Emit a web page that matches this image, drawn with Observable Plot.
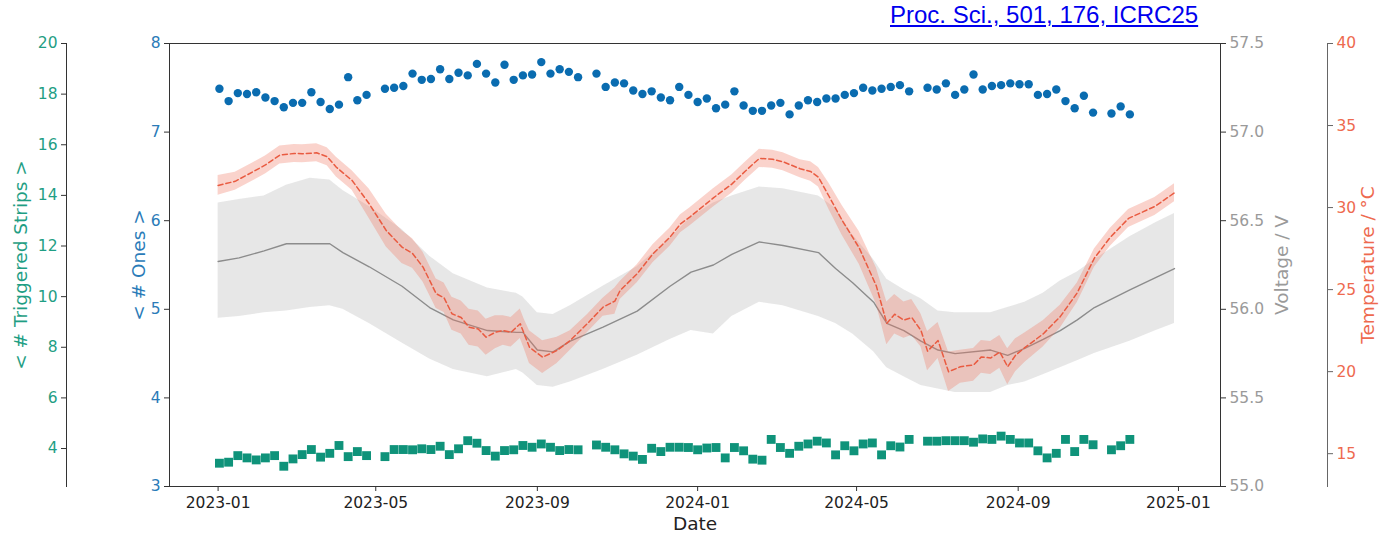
<!DOCTYPE html>
<html>
<head>
<meta charset="utf-8">
<script src="https://cdn.jsdelivr.net/npm/d3@7"></script>
<script src="https://cdn.jsdelivr.net/npm/@observablehq/plot@0.6"></script>
<style>
  html, body { margin: 0; padding: 0; background: #fff; }
  #chart { position: relative; width: 1380px; height: 535px; overflow: hidden; }
  #chart svg { position: absolute; left: 0; top: 0; background: transparent; }
  #chart g[aria-label$="axis label"] text { font-size: 18.5px; }
  #ref { position: absolute; left: 890px; top: 3px; font-family: "Liberation Sans", Arial, sans-serif;
         font-size: 24px; line-height: 24px; color: #0000ee; text-decoration: underline; white-space: nowrap; z-index: 5; }
</style>
</head>
<body>
<div id="chart"><a id="ref" href="#">Proc. Sci., 501, 176, ICRC25</a></div>
<script>
// ---- weekly monitoring values (null = week without data) ----
const firstWeek = "2023-01-02";
const onesMean = [7.49,7.35,7.44,7.43,7.45,7.39,7.35,7.28,7.33,7.33,7.45,7.34,7.26,7.31,7.62,7.36,7.42,null,7.49,7.50,
  7.52,7.66,7.59,7.60,7.71,7.60,7.67,7.64,7.77,7.66,7.56,7.76,7.59,7.64,7.65,7.79,7.66,7.71,7.68,7.62,
  null,7.66,7.51,7.56,7.55,7.47,7.43,7.46,7.39,7.36,7.51,7.42,7.34,7.38,7.27,7.31,7.46,7.30,7.24,7.24,
  7.30,7.33,7.20,7.30,7.36,7.34,7.38,7.38,7.42,7.44,7.50,7.47,7.49,7.51,7.53,7.46,null,7.50,7.48,7.55,
  7.42,7.48,7.65,7.48,7.52,7.53,7.55,7.54,7.54,7.42,7.43,7.48,7.35,7.27,7.41,7.22,null,7.21,7.29,7.20];
const stripsMean = [3.42,3.46,3.72,3.63,3.55,3.63,3.72,3.30,3.59,3.76,3.96,3.66,3.81,4.12,3.68,3.88,3.72,null,3.68,3.96,
  3.96,3.95,3.99,3.96,4.09,3.76,3.99,4.31,4.21,3.92,3.70,3.92,3.95,4.12,4.05,4.18,4.05,3.92,3.96,3.95,
  null,4.14,4.05,3.95,3.79,3.70,3.57,4.01,3.88,4.05,4.05,4.04,3.95,4.02,4.04,3.63,4.04,3.91,3.58,3.54,
  4.36,4.04,3.81,4.09,4.18,4.29,4.22,3.75,4.11,3.91,4.18,4.22,3.75,4.11,4.06,4.36,null,4.29,4.29,4.31,
  4.31,4.31,4.25,4.38,4.36,4.49,4.36,4.22,4.22,3.91,3.63,3.81,4.36,3.88,4.36,4.15,null,3.95,4.11,4.36];

// ---- bias voltage: mean and spread ----
const voltDates = ["2023-01-01","2023-01-17","2023-02-05","2023-02-22","2023-03-12","2023-03-27","2023-04-06","2023-04-26",
  "2023-05-21","2023-06-11","2023-06-29","2023-07-25","2023-08-16","2023-08-21","2023-09-01","2023-09-13","2023-09-26",
  "2023-10-21","2023-11-16","2023-12-11","2023-12-27","2024-01-13","2024-01-27","2024-02-17","2024-03-06","2024-04-02",
  "2024-04-15","2024-04-28","2024-05-14","2024-05-24","2024-06-06","2024-06-19","2024-07-02","2024-07-15","2024-08-11",
  "2024-08-24","2024-09-06","2024-09-20","2024-10-03","2024-10-16","2024-10-29","2024-11-25","2024-12-15","2024-12-29"];
const voltMean = [56.27,56.29,56.33,56.37,56.37,56.37,56.32,56.24,56.13,56.01,55.94,55.88,55.87,55.87,55.77,55.76,55.82,
  55.90,55.99,56.13,56.21,56.25,56.31,56.38,56.36,56.32,56.23,56.15,56.04,55.92,55.88,55.82,55.77,55.75,55.77,
  55.74,55.78,55.83,55.88,55.94,56.01,56.11,56.18,56.23];
const voltLow = [55.95,55.96,55.98,55.99,56.01,56.02,56.00,55.92,55.81,55.72,55.66,55.62,55.66,55.64,55.57,55.56,55.59,
  55.66,55.74,55.83,55.88,55.86,55.96,56.04,56.02,55.96,55.92,55.86,55.76,55.67,55.62,55.57,55.55,55.53,55.53,
  55.57,55.59,55.63,55.67,55.71,55.75,55.82,55.88,55.92];
const voltHigh = [56.60,56.62,56.64,56.70,56.74,56.73,56.67,56.58,56.45,56.30,56.20,56.12,56.09,56.07,55.98,55.97,56.02,
  56.13,56.24,56.40,56.52,56.60,56.64,56.69,56.68,56.64,56.57,56.42,56.28,56.17,56.11,56.06,55.99,55.98,55.98,
  56.01,56.04,56.09,56.16,56.21,56.28,56.41,56.49,56.54];

// ---- temperature: mean and half-width of the spread ----
const tempDates = ["2023-01-01","2023-01-14","2023-01-28","2023-02-06","2023-02-17","2023-02-28","2023-03-06","2023-03-17",
  "2023-03-25","2023-04-01","2023-04-13","2023-04-26","2023-05-09","2023-05-21","2023-05-29","2023-06-06","2023-06-16",
  "2023-06-22","2023-06-28","2023-07-05","2023-07-11","2023-07-18","2023-07-24","2023-07-31","2023-08-06","2023-08-12",
  "2023-08-19","2023-08-22","2023-08-26","2023-09-05","2023-09-16","2023-09-26","2023-10-09","2023-10-21","2023-10-30",
  "2023-11-03","2023-11-16","2023-11-28","2023-12-11","2023-12-19","2023-12-26","2024-01-13","2024-01-27","2024-02-06",
  "2024-02-17","2024-02-27","2024-03-06","2024-03-19","2024-03-27","2024-04-02","2024-04-10","2024-04-20","2024-05-03",
  "2024-05-16","2024-05-24","2024-05-30","2024-06-06","2024-06-12","2024-06-19","2024-06-24","2024-07-02","2024-07-10",
  "2024-07-19","2024-07-29","2024-08-04","2024-08-11","2024-08-18","2024-08-24","2024-08-30","2024-09-06","2024-09-20",
  "2024-10-03","2024-10-16","2024-10-29","2024-11-10","2024-11-24","2024-12-14","2024-12-29"];
const tempMean = [31.35,31.6,32.2,32.6,33.2,33.3,33.28,33.34,33.1,32.46,31.65,30.23,28.6,27.59,27.2,26.37,24.75,
  24.5,23.53,23.3,22.71,22.6,22.1,22.4,22.51,22.4,22.92,22.3,21.49,20.88,21.29,21.9,22.92,23.93,24.3,
  24.95,25.97,27.18,28.2,29.01,29.42,30.59,31.43,32.2,33.0,32.95,32.79,32.37,32.2,31.85,30.69,29.22,27.54,
  25.23,22.94,23.5,23.14,23.3,22.51,21.25,21.9,19.99,20.3,20.41,20.9,20.83,21.2,20.30,21.0,21.46,22.30,
  23.35,24.81,26.92,28.18,29.34,30.07,30.9];
const tempSpread = [0.6,0.55,0.55,0.55,0.55,0.55,0.55,0.55,0.55,0.6,0.6,0.9,1.0,1.0,0.9,0.9,0.9,
  0.9,1.0,1.0,1.1,1.1,1.1,1.0,0.9,0.9,0.9,0.9,1.0,1.0,0.8,0.6,0.55,0.55,0.8,
  0.55,0.55,0.55,0.55,0.55,0.55,0.55,0.55,0.55,0.55,0.55,0.55,0.55,0.6,0.6,0.8,0.9,1.0,
  1.1,1.3,1.2,1.1,1.1,1.0,1.2,1.1,1.2,1.0,1.0,1.0,1.0,1.0,1.1,1.0,0.9,0.8,
  0.7,0.6,0.55,0.55,0.55,0.55,0.55];

// ---- axes ----
const dateTicks = ["2023-01-01","2023-05-01","2023-09-01","2024-01-01","2024-05-01","2024-09-01","2025-01-01"];
const onesTicks = [3, 4, 5, 6, 7, 8];
const stripsTicks = [4, 6, 8, 10, 12, 14, 16, 18, 20];
const voltTicks = [55.0, 55.5, 56.0, 56.5, 57.0, 57.5];
const tempTicks = [15, 20, 25, 30, 35, 40];

const W = 1380, H = 535;
const M = {top: 43, bottom: 49, left: 169, right: 160};
const xDomain = [new Date("2022-11-25"), new Date("2025-02-02")];
const xRange = [M.left, W - M.right];
const font = {fontFamily: "'DejaVu Sans', sans-serif", fontSize: "15.5px", background: "transparent", overflow: "visible"};

const BLUE = "#0a6cb0", BLUE_TXT = "#2a7bb8";
const GREEN = "#0f937a", GREEN_TXT = "#1f9e84";
const RED = "#e95b41", RED_TXT = "#ee6a4f";
const GRAY_TXT = "#9a9a9a";
const SPINE = "#333";

const weekly = onesMean.map((v, i) => ({date: d3.utcDay.offset(new Date(firstWeek), 7 * i), ones: v, strips: stripsMean[i]}));
const volt = voltDates.map((d, i) => ({date: new Date(d), mean: voltMean[i], lo: voltLow[i], hi: voltHigh[i]}));
const temp = tempDates.map((d, i) => ({date: new Date(d), mean: tempMean[i], lo: tempMean[i] - tempSpread[i], hi: tempMean[i] + tempSpread[i]}));

const base = {width: W, height: H, marginTop: M.top, marginBottom: M.bottom, style: font};
const chart = document.getElementById("chart");

// voltage layer (right axis on the frame edge)
chart.append(Plot.plot({
  ...base, marginLeft: M.left, marginRight: M.right,
  x: {type: "utc", domain: xDomain, axis: null},
  y: {domain: [55, 57.5]},
  marks: [
    Plot.areaY(volt, {x: "date", y1: "lo", y2: "hi", fill: "#d3d3d3", fillOpacity: 0.55}),
    Plot.lineY(volt, {x: "date", y: "mean", stroke: "#8c8c8c", strokeWidth: 1.4}),
    Plot.axisY({anchor: "right", ticks: voltTicks, tickFormat: d3.format(".1f"), tickSize: 5, tickPadding: 4,
      stroke: SPINE, fill: GRAY_TXT, label: "Voltage / V", labelAnchor: "center", labelArrow: "none", labelOffset: 67})
  ]
}));

// temperature layer (outer right axis)
chart.append(Plot.plot({
  ...base, marginLeft: M.left, marginRight: 53,
  x: {type: "utc", domain: xDomain, range: xRange, axis: null},
  y: {domain: [13, 40]},
  marks: [
    Plot.areaY(temp, {x: "date", y1: "lo", y2: "hi", fill: "#ef7560", fillOpacity: 0.32}),
    Plot.lineY(temp, {x: "date", y: "mean", stroke: RED, strokeWidth: 1.5, strokeDasharray: "5,3"}),
    Plot.frame({anchor: "right", stroke: "#666"}),
    Plot.axisY({anchor: "right", ticks: tempTicks, tickSize: 5, tickPadding: 4,
      stroke: "#666", fill: RED_TXT, label: "Temperature / °C", labelAnchor: "center", labelArrow: "none", labelOffset: 46})
  ]
}));

// main layer: < # Ones >, date axis and frame
chart.append(Plot.plot({
  ...base, marginLeft: M.left, marginRight: M.right,
  x: {type: "utc", domain: xDomain},
  y: {domain: [3, 8]},
  marks: [
    Plot.frame({stroke: SPINE}),
    Plot.axisX({ticks: dateTicks.map(d => new Date(d)), tickFormat: d3.utcFormat("%Y-%m"), tickSize: 5, tickPadding: 5,
      stroke: SPINE, fill: "#222", label: "Date", labelAnchor: "center", labelArrow: "none", labelOffset: 43}),
    Plot.axisY({anchor: "left", ticks: onesTicks, tickFormat: d3.format("d"), tickSize: 5, tickPadding: 4,
      stroke: SPINE, fill: BLUE_TXT, label: "< # Ones >", labelAnchor: "center", labelArrow: "none", labelOffset: 38}),
    Plot.dot(weekly.filter(d => d.ones != null), {x: "date", y: "ones", r: 4.2, fill: BLUE, stroke: null})
  ]
}));

// outer left layer: < # Triggered Strips >
chart.append(Plot.plot({
  ...base, marginLeft: 66, marginRight: M.right,
  x: {type: "utc", domain: xDomain, range: xRange, axis: null},
  y: {domain: [2.5, 20]},
  marks: [
    Plot.frame({anchor: "left", stroke: SPINE}),
    Plot.axisY({anchor: "left", ticks: stripsTicks, tickFormat: d3.format("d"), tickSize: 5, tickPadding: 4,
      stroke: SPINE, fill: GREEN_TXT, label: "< # Triggered Strips >", labelAnchor: "center", labelArrow: "none", labelOffset: 53}),
    Plot.dot(weekly.filter(d => d.strips != null), {x: "date", y: "strips", symbol: "square", r: 5, fill: GREEN, stroke: null})
  ]
}));
</script>
</body>
</html>
